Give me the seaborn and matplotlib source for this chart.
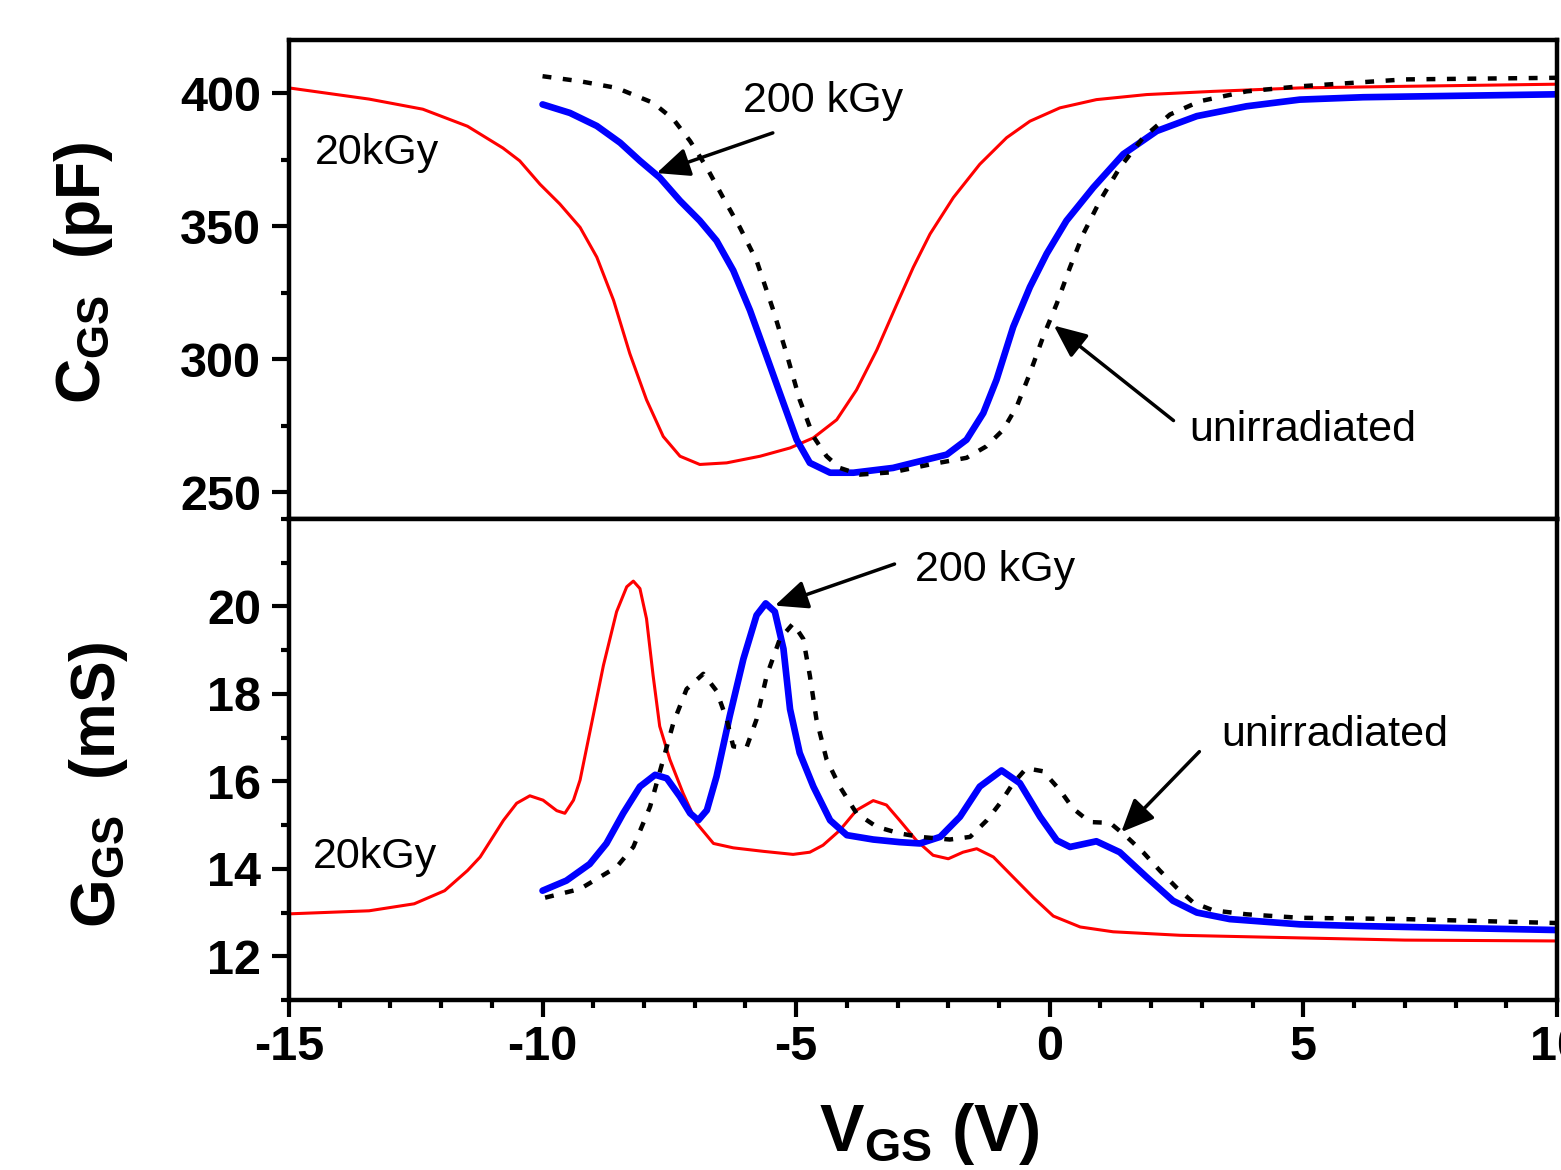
import numpy as np
import pandas as pd
import matplotlib
matplotlib.use("Agg")
import matplotlib.pyplot as plt
import seaborn as sns
from matplotlib.ticker import MultipleLocator

# ---------------- data ----------------
# Top panel: C_GS (pF) vs V_GS (V)
c_red_v = [-15, -13.42, -12.36, -11.48, -10.78, -10.45, -10.05, -9.66, -9.26, -8.93, -8.6, -8.28,
           -7.95, -7.62, -7.29, -6.9, -6.37, -5.71, -5.12, -4.66, -4.2, -3.81, -3.41, -3.02,
           -2.69, -2.36, -1.9, -1.38, -0.85, -0.39, 0.2, 0.92, 1.91, 3.22, 4.93, 7.0, 10.0]
c_red = [402, 397.8, 394, 387.6, 379.4, 374.6, 365.8, 358.4, 349.6, 338.4, 322.2, 302.2,
         284.8, 271, 263.6, 260.5, 261.1, 263.6, 266.7, 270.5, 277.3, 288.5, 303.5, 320.5,
         334.6, 347.1, 360.8, 373.3, 383.3, 389.5, 394.5, 397.6, 399.5, 400.7, 402, 402.6, 403.4]

c_blue_v = [-10, -9.46, -8.93, -8.47, -8.08, -7.69, -7.29, -6.9, -6.57, -6.24, -5.91, -5.58,
            -5.25, -4.99, -4.73, -4.33, -3.87, -3.09, -2.69, -2.03, -1.64, -1.31, -1.05, -0.72,
            -0.39, -0.06, 0.33, 0.86, 1.45, 2.11, 2.9, 3.88, 4.93, 6.18, 10]
c_blue = [395.8, 392.6, 387.7, 381.4, 374.6, 368.3, 359.6, 352.1, 344.6, 333.4, 318.4, 301,
          283.5, 269.8, 261.1, 257.4, 257.4, 259.2, 261.1, 264.2, 269.8, 279.8, 292.3, 312.2,
          327.2, 339.7, 352.1, 364.6, 377.1, 385.8, 391.4, 395.1, 397.6, 398.5, 399.6]

c_dot_v = [-10, -9.26, -8.54, -7.82, -7.42, -7.09, -6.76, -6.44, -6.11, -5.78, -5.45, -5.19,
           -4.93, -4.66, -4.4, -4.14, -3.74, -3.09, -2.36, -1.64, -1.25, -0.92, -0.65, -0.39,
           -0.13, 0.14, 0.4, 0.66, 0.99, 1.38, 1.84, 2.37, 2.96, 3.88, 4.93, 7.0, 10]
c_dot = [406.4, 404.5, 402, 396.4, 390.2, 382, 372, 360.8, 349.6, 337.1, 318.4, 302.2,
         284.8, 271, 263.6, 259.2, 256.7, 257.6, 260.5, 263, 267.3, 273.5, 282.3, 294.8,
         308.5, 321, 334.6, 347.1, 359.6, 372, 383.3, 392, 397, 400.7, 402.6, 405.2, 405.8]

# Bottom panel: G_GS (mS) vs V_GS (V)
g_red_v = [-15, -13.42, -12.53, -11.93, -11.48, -11.23, -10.77, -10.51, -10.25, -9.99, -9.72,
           -9.56, -9.39, -9.26, -9.07, -8.8, -8.54, -8.34, -8.21, -8.08, -7.95, -7.82, -7.69,
           -7.49, -7.23, -6.96, -6.63, -6.24, -5.65, -5.06, -4.73, -4.47, -4.14, -3.81, -3.48,
           -3.22, -2.96, -2.63, -2.3, -2.0, -1.71, -1.44, -1.11, -0.72, -0.32, 0.07, 0.6, 1.25,
           2.57, 4.93, 7.0, 10]
g_red = [12.97, 13.04, 13.2, 13.5, 13.96, 14.27, 15.11, 15.5, 15.67, 15.57, 15.33,
         15.27, 15.57, 16.03, 17.11, 18.65, 19.88, 20.45, 20.58, 20.41, 19.72, 18.42, 17.26,
         16.5, 15.73, 15.04, 14.58, 14.48, 14.4, 14.33, 14.38, 14.54, 14.88, 15.34, 15.56,
         15.46, 15.11, 14.65, 14.31, 14.23, 14.38, 14.46, 14.27, 13.81, 13.34, 12.92, 12.67, 12.56,
         12.48, 12.42, 12.37, 12.35]

g_blue_v = [-10, -9.53, -9.07, -8.74, -8.41, -8.08, -7.78, -7.55, -7.29, -7.09, -6.93, -6.76,
            -6.57, -6.31, -6.04, -5.78, -5.6, -5.42, -5.25, -5.12, -4.93, -4.66, -4.33, -4.0,
            -3.48, -2.96, -2.56, -2.16, -1.77, -1.38, -0.95, -0.59, -0.19, 0.14, 0.4, 0.92,
            1.38, 1.91, 2.43, 2.9, 3.55, 4.93, 6.18, 10]
g_blue = [13.5, 13.73, 14.11, 14.58, 15.27, 15.88, 16.15, 16.07, 15.65, 15.27, 15.11, 15.34,
          16.11, 17.49, 18.8, 19.8, 20.07, 19.88, 19.03, 17.65, 16.65, 15.88, 15.11, 14.77,
          14.67, 14.61, 14.58, 14.73, 15.19, 15.88, 16.25, 15.96, 15.19, 14.65, 14.5, 14.63,
          14.38, 13.81, 13.27, 13.0, 12.85, 12.73, 12.69, 12.6]

g_dot_v = [-9.95, -9.26, -8.54, -8.21, -7.88, -7.62, -7.42, -7.16, -6.83, -6.57, -6.37, -6.24,
           -5.98, -5.78, -5.58, -5.32, -5.06, -4.86, -4.73, -4.6, -4.4, -4.14, -3.81, -3.41,
           -2.96, -2.56, -1.97, -1.57, -1.24, -0.98, -0.72, -0.46, -0.13, 0.2, 0.46, 0.79,
           1.19, 1.52, 1.84, 2.17, 2.5, 2.83, 3.22, 3.88, 4.93, 7.0, 10]
g_dot = [13.34, 13.54, 14.04, 14.5, 15.42, 16.5, 17.34, 18.11, 18.46, 18.07, 17.42, 16.8,
         16.77, 17.42, 18.42, 19.26, 19.61, 19.26, 18.42, 17.42, 16.5, 15.88, 15.27, 14.96,
         14.81, 14.73, 14.67, 14.73, 15.11, 15.5, 15.96, 16.3, 16.23, 15.8, 15.38, 15.07,
         15.05, 14.73, 14.38, 13.96, 13.57, 13.23, 13.05, 12.96, 12.88, 12.85, 12.76]

x_ticks = [-15, -10, -5, 0, 5, 10]
c_ticks = [250, 300, 350, 400]
g_ticks = [12, 14, 16, 18, 20]

# ---------------- style ----------------
sns.set_theme(style="ticks")
plt.rcParams["font.family"] = ["Liberation Sans", "DejaVu Sans"]
plt.rcParams["mathtext.fontset"] = "custom"
plt.rcParams["mathtext.rm"] = "Liberation Sans"
plt.rcParams["mathtext.bf"] = "Liberation Sans:bold"
plt.rcParams["mathtext.it"] = "Liberation Sans:italic"
plt.rcParams["axes.unicode_minus"] = False
plt.rcParams["text.color"] = "black"
plt.rcParams["axes.labelcolor"] = "black"

fig = plt.figure(figsize=(15.61, 11.7), dpi=100)
fig.patch.set_facecolor("white")
ax1 = fig.add_axes([0.1851, 0.5564, 0.8123, 0.4094])
ax2 = fig.add_axes([0.1851, 0.1453, 0.8123, 0.4111])

red_kw = dict(color="#ff0000", linewidth=2.2, solid_joinstyle="round")
blue_kw = dict(color="#0000ff", linewidth=4.8, solid_joinstyle="round")
dot_kw = dict(color="black", linewidth=3.2, linestyle=(0, (2, 2.6)))

def draw(ax, v, y, kw):
    df = pd.DataFrame({"V": v, "Y": y})
    sns.lineplot(data=df, x="V", y="Y", ax=ax, estimator=None, sort=False, **kw)

draw(ax1, c_red_v, c_red, red_kw)
draw(ax1, c_blue_v, c_blue, blue_kw)
draw(ax1, c_dot_v, c_dot, dot_kw)

draw(ax2, g_red_v, g_red, red_kw)
draw(ax2, g_blue_v, g_blue, blue_kw)
draw(ax2, g_dot_v, g_dot, dot_kw)

for ax in (ax1, ax2):
    ax.set_xlim(-15, 10)
    for s in ax.spines.values():
        s.set_visible(True)
        s.set_linewidth(3.2)
        s.set_color("black")
    ax.set_facecolor("white")
    ax.grid(False)
    ax.tick_params(axis="y", which="major", direction="out", length=12, width=3,
                   labelsize=35, pad=8, colors="black")
    ax.tick_params(axis="y", which="minor", direction="out", length=6, width=3, colors="black")

ax1.set_ylim(240, 420)
ax1.set_yticks(c_ticks)
ax1.yaxis.set_minor_locator(MultipleLocator(25))
ax1.set_xticks([])
ax1.tick_params(axis="x", which="both", length=0, labelbottom=False)

ax2.set_ylim(11, 22)
ax2.set_yticks(g_ticks)
ax2.yaxis.set_minor_locator(MultipleLocator(1))
ax2.set_xticks(x_ticks)
ax2.xaxis.set_minor_locator(MultipleLocator(1))
ax2.tick_params(axis="x", which="major", direction="out", length=12, width=3,
                labelsize=35, pad=6, colors="black")
ax2.tick_params(axis="x", which="minor", direction="out", length=6, width=3, colors="black")
for ax in (ax1, ax2):
    for lab in ax.get_yticklabels() + ax.get_xticklabels():
        lab.set_fontweight("bold")
        lab.set_color("black")

ax1.set_xlabel("")
ax1.set_ylabel(r"$\mathbf{C}_{\mathbf{GS}}$  (pF)", fontsize=45, fontweight="bold", color="black")
ax1.yaxis.set_label_coords(-0.137, 0.514)
ax2.set_ylabel(r"$\mathbf{G}_{\mathbf{GS}}$  (mS)", fontsize=45, fontweight="bold", color="black")
ax2.yaxis.set_label_coords(-0.125, 0.447)
ax2.set_xlabel(r"$\mathbf{V}_{\mathbf{GS}}$ (V)", fontsize=48, fontweight="bold", color="black")
ax2.xaxis.set_label_coords(0.505, -0.21)

# ---------------- annotations ----------------
txt_kw = dict(fontsize=31, color="black")
arrow = dict(arrowstyle="-|>,head_length=0.5,head_width=0.22", mutation_scale=40,
             lw=2.5, color="black", shrinkA=0, shrinkB=0)

ax1.text(-14.49, 377.5, "20kGy", ha="left", va="center", **txt_kw)
ax1.text(-6.05, 397.0, "200 kGy", ha="left", va="center", **txt_kw)
ax1.annotate("", xy=(-7.75, 370.0), xytext=(-5.46, 385.1), arrowprops=arrow)
ax1.text(2.75, 273.4, "unirradiated", ha="left", va="center", **txt_kw)
ax1.annotate("", xy=(0.08, 312.7), xytext=(2.44, 277.0), arrowprops=arrow)

ax2.text(-14.53, 14.26, "20kGy", ha="left", va="center", **txt_kw)
ax2.text(-2.66, 20.83, "200 kGy", ha="left", va="center", **txt_kw)
ax2.annotate("", xy=(-5.42, 20.02), xytext=(-3.06, 20.97), arrowprops=arrow)
ax2.text(3.38, 17.07, "unirradiated", ha="left", va="center", **txt_kw)
ax2.annotate("", xy=(1.41, 14.84), xytext=(2.95, 16.68), arrowprops=arrow)

fig.savefig("out.png", dpi=100, facecolor="white")
